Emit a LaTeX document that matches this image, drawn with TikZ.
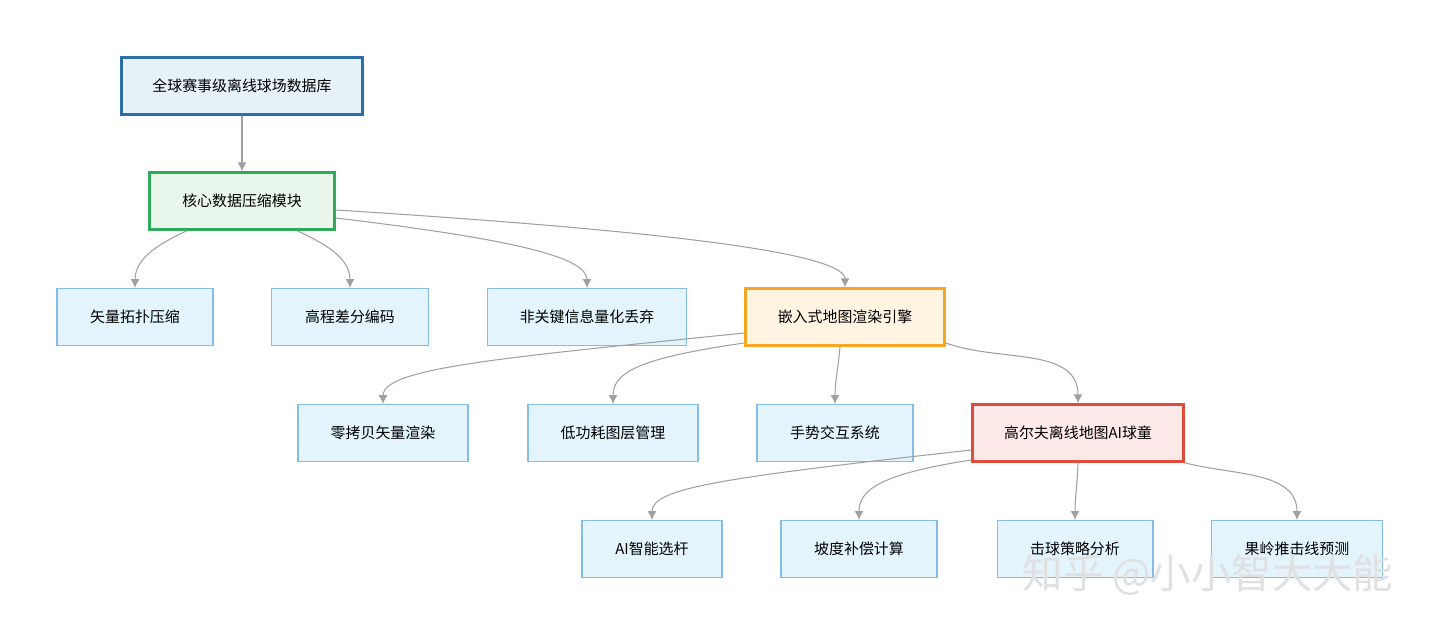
\documentclass[tikz,border=0pt]{standalone}
\usepackage{fontspec}
\setmainfont{Noto Sans CJK SC}
\definecolor{leaffill}{HTML}{E3F4FC}
\definecolor{leafline}{HTML}{86BDE6}
\definecolor{edgecol}{HTML}{A0A0A0}
\definecolor{dbfill}{HTML}{E6F1F8}
\definecolor{dbline}{HTML}{2A6FA8}
\definecolor{corefill}{HTML}{E8F6EC}
\definecolor{coreline}{HTML}{2EAA5A}
\definecolor{engfill}{HTML}{FFF4E2}
\definecolor{engline}{HTML}{F5A623}
\definecolor{cadfill}{HTML}{FDE9E8}
\definecolor{cadline}{HTML}{E04B3A}
\tikzset{
  box/.style={draw, rectangle, minimum height=1.14cm, font=\fontsize{8.5}{10}\selectfont, inner sep=2pt},
  leaf/.style={box, fill=leaffill, draw=leafline, line width=0.6pt},
  hub/.style={box, line width=1.4pt},
  link/.style={draw=edgecol, line width=0.6pt, -{Latex[length=5pt,width=5pt]}}
}
\usetikzlibrary{arrows.meta}
\begin{document}
\begin{tikzpicture}[x=0.02cm, y=-0.02cm]
  \useasboundingbox (0,0) rectangle (1440,635);
  \draw
    (242,86) node[hub, fill=dbfill, draw=dbline, minimum width=4.82cm] (db){全球赛事级离线球场数据库}
    (242,201) node[hub, fill=corefill, draw=coreline, minimum width=3.7cm] (core){核心数据压缩模块}
    (135,317) node[leaf, minimum width=3.12cm] (topo){矢量拓扑压缩}
    (350,317) node[leaf, minimum width=3.14cm] (elev){高程差分编码}
    (587,317) node[leaf, minimum width=3.98cm] (quant){非关键信息量化丢弃}
    (845,317) node[hub, fill=engfill, draw=engline, minimum width=3.98cm] (engine){嵌入式地图渲染引擎}
    (383,433) node[leaf, minimum width=3.4cm] (zero){零拷贝矢量渲染}
    (613,433) node[leaf, minimum width=3.4cm] (layer){低功耗图层管理}
    (835,433) node[leaf, minimum width=3.12cm] (gest){手势交互系统}
    (1078,433) node[hub, fill=cadfill, draw=cadline, minimum width=4.22cm] (caddie){高尔夫离线地图AI球童}
    (652,549) node[leaf, minimum width=2.8cm] (club){AI智能选杆}
    (859,549) node[leaf, minimum width=3.12cm] (slope){坡度补偿计算}
    (1075,549) node[leaf, minimum width=3.12cm] (shot){击球策略分析}
    (1297,549) node[leaf, minimum width=3.42cm] (green){果岭推击线预测};
  \begin{scope}[link]
    \draw (db) -- (core);
    \draw ([xshift=-1.1cm]core.south) to[out=-155, in=90] (topo.north);
    \draw ([xshift=1.1cm]core.south) to[out=-25, in=90] (elev.north);
    \draw ([yshift=-0.34cm]core.east) .. controls (520,240) and (587,258) .. (quant.north);
    \draw ([yshift=-0.18cm]core.east) .. controls (620,228) and (845,250) .. (engine.north);
    \draw ([yshift=-0.32cm]engine.west) .. controls (500,358) and (383,368) .. (zero.north);
    \draw ([yshift=-0.52cm]engine.west) .. controls (640,358) and (613,372) .. (layer.north);
    \draw ([xshift=-0.1cm]engine.south) to[out=-95, in=90] (gest.north);
    \draw ([yshift=-0.52cm]engine.east) to[out=-20, in=90] (caddie.north);
    \draw ([yshift=-0.34cm]caddie.west) .. controls (720,478) and (652,488) .. (club.north);
    \draw ([yshift=-0.54cm]caddie.west) .. controls (880,474) and (859,490) .. (slope.north);
    \draw (caddie.south) to[out=-92, in=90] (shot.north);
    \draw (caddie.south east) to[out=-15, in=90] (green.north);
  \end{scope}
  \node[text=black!12, font=\fontsize{23}{28}\selectfont] (mark) at (1208,575) {知乎 @小小智大大能};
\end{tikzpicture}
\end{document}
